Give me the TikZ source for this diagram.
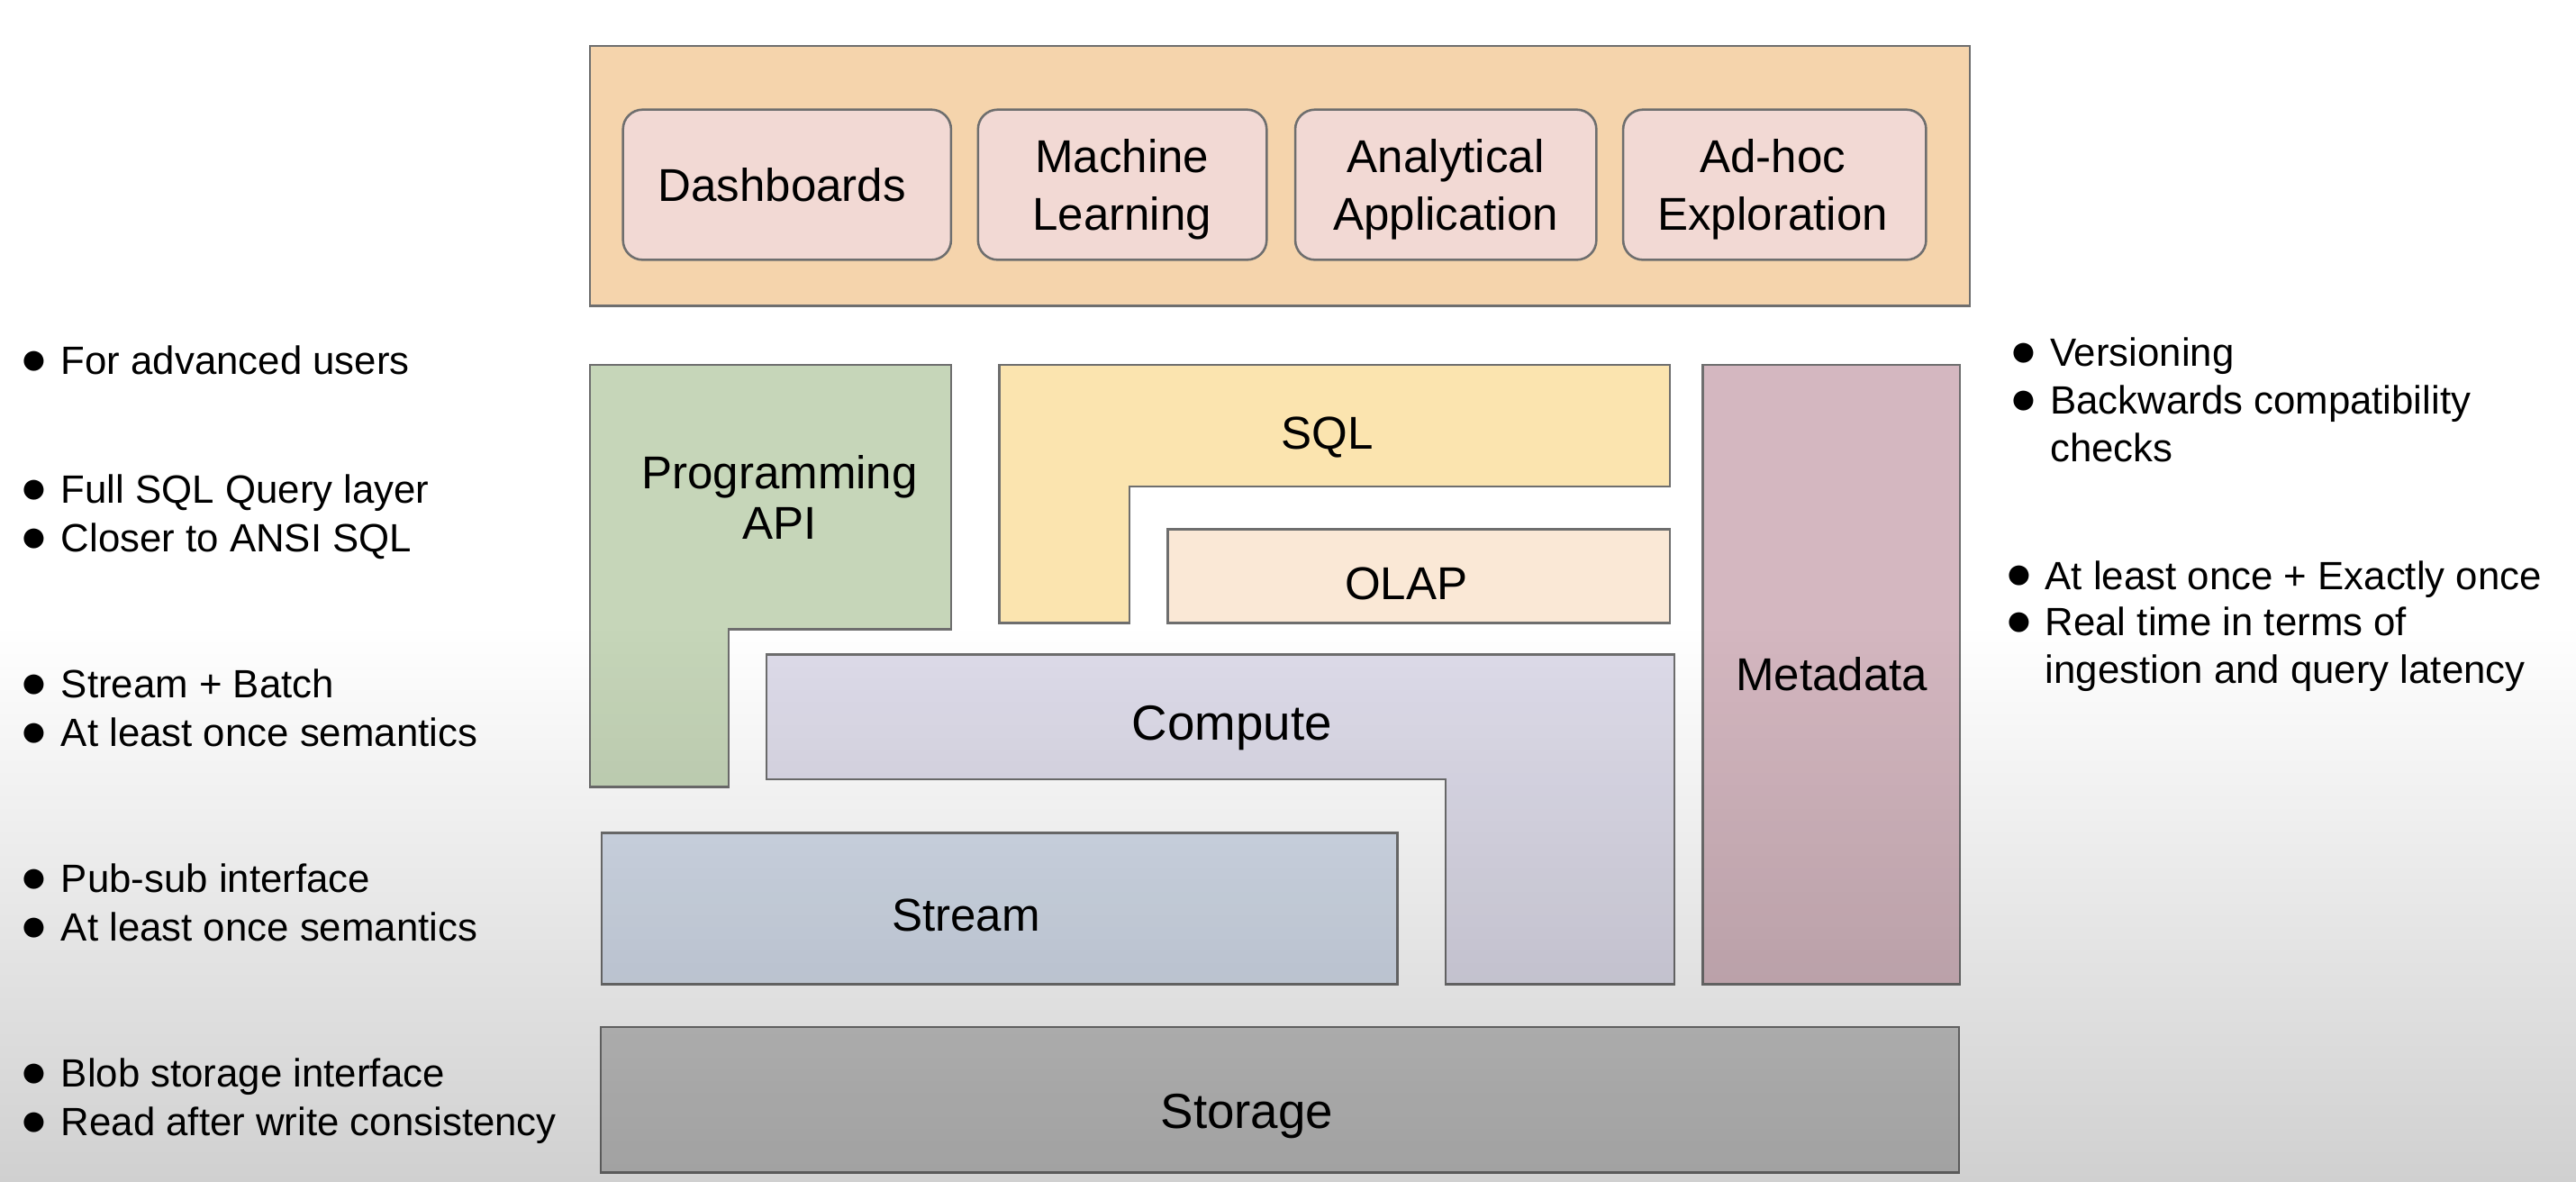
\documentclass[tikz,border=0pt]{standalone}
\usepackage{fontspec}
\setmainfont{Liberation Sans}
\definecolor{bordc}{HTML}{6E6E6E}
\definecolor{appouter}{HTML}{F5D4AC}
\definecolor{appinner}{HTML}{F2D9D4}
\definecolor{greenc}{HTML}{C6D6B9}
\definecolor{sqlc}{HTML}{FBE4AF}
\definecolor{olapc}{HTML}{FAE8D6}
\definecolor{computec}{HTML}{DEDCEA}
\definecolor{metac}{HTML}{D4B7C0}
\definecolor{streamc}{HTML}{D4DDEB}
\definecolor{storagec}{HTML}{C6C6C6}
\definecolor{bgbot}{HTML}{D0D0D0}
\begin{document}
\begin{tikzpicture}[x=0.5pt,y=-0.5pt,
  blk/.style={draw=bordc, line width=0.7pt},
  layer/.style={blk, inner sep=0pt, outer sep=0pt},
  appbox/.style={blk, fill=appinner, rounded corners=6pt, inner sep=0pt,
    minimum height=45.7pt},
  lbl/.style={inner sep=0pt, anchor=base, align=center, font=\fontsize{14}{17}\selectfont},
  applbl/.style={lbl, font=\fontsize{14}{17.35}\selectfont},
  biglbl/.style={lbl, font=\fontsize{15}{18}\selectfont},
  note/.style={inner sep=0pt, anchor=base west, align=left, font=\fontsize{12}{14.5}\selectfont},
  bul/.style={inner sep=0pt, font=\fontsize{14}{14}\selectfont}
]
\useasboundingbox (0,0) rectangle (1568,719);
\fill[white] (0,0) rectangle (1568,719);

% ---------- application layer ----------
\node[layer, fill=appouter, minimum width=420pt, minimum height=79pt] (apps) at (779,107) {};
\node[appbox, minimum width=99.85pt] (dashbox) at (479.05,112.4) {};
\node[appbox, minimum width=87.85pt] (mlbox) at (683.15,112.4) {};
\node[appbox, minimum width=91.65pt] (aabox) at (880.05,112.4) {};
\node[appbox, minimum width=92.2pt] (adhocbox) at (1080.2,112.4) {};
\node[applbl] (dash) at (476,122.5) {Dashboards};
\node[applbl] (ml) at (683,139.8) {Machine\\Learning};
\node[applbl] (aa) at (880,139.8) {Analytical\\Application};
\node[applbl] (adhoc) at (1079,139.8) {Ad-hoc\\Exploration};

% ---------- programming API (L shape) ----------
\draw[blk, fill=greenc] (359,222) -- (579,222) -- (579,383) -- (443.6,383)
  -- (443.6,479) -- (359,479) -- cycle;
\node[lbl, font=\fontsize{14}{15.25}\selectfont] (prog) at (474.5,328) {Programming\\API};

% ---------- SQL (L shape) ----------
\draw[blk, fill=sqlc] (608.3,222) -- (1016.4,222) -- (1016.4,296) -- (687.5,296)
  -- (687.5,379.2) -- (608.3,379.2) -- cycle;
\node[lbl] (sql) at (808,273.2) {SQL};

% ---------- OLAP ----------
\node[layer, fill=olapc, minimum width=152.75pt, minimum height=28.6pt] (olapbox) at (863.65,350.6) {};
\node[lbl] (olap) at (856,365.1) {OLAP};

% ---------- Compute (L shape) ----------
\draw[blk, fill=computec] (466.5,398.4) -- (1019.1,398.4) -- (1019.1,598.9) -- (880,598.9)
  -- (880,474.2) -- (466.5,474.2) -- cycle;
\node[biglbl] (compute) at (750,450.5) {Compute};

% ---------- Metadata ----------
\node[layer, fill=metac, minimum width=78.2pt, minimum height=188.45pt] (metabox) at (1114.8,410.45) {};
\node[lbl] (meta) at (1115,420.3) {Metadata};

% ---------- Stream ----------
\node[layer, fill=streamc, minimum width=242.2pt, minimum height=46.1pt] (streambox) at (608.4,552.8) {};
\node[lbl] (stream) at (588,566.5) {Stream};

% ---------- Storage ----------
\node[layer, fill=storagec, minimum width=413.45pt, minimum height=44.3pt] (storagebox) at (779.05,669.3) {};
\node[biglbl] (storage) at (759,686.8) {Storage};

% ---------- left notes ----------
\node[bul] (lb1) at (21,221) {●};
\node[note] (l1) at (36.8,228) {For advanced users};
\node[bul] (lb2) at (21,299) {●};
\node[note] (l2) at (36.8,306) {Full SQL Query layer};
\node[bul] (lb3) at (21,329) {●};
\node[note] (l3) at (36.8,336) {Closer to ANSI SQL};
\node[bul] (lb4) at (21,417.5) {●};
\node[note] (l4) at (36.8,424.6) {Stream + Batch};
\node[bul] (lb5) at (21,447) {●};
\node[note] (l5) at (36.8,454) {At least once semantics};
\node[bul] (lb6) at (21,536) {●};
\node[note] (l6) at (36.8,543) {Pub-sub interface};
\node[bul] (lb7) at (21,565.5) {●};
\node[note] (l7) at (36.8,572.5) {At least once semantics};
\node[bul] (lb8) at (21,654.5) {●};
\node[note] (l8) at (36.8,661.6) {Blob storage interface};
\node[bul] (lb9) at (21,684) {●};
\node[note] (l9) at (36.8,691) {Read after write consistency};

% ---------- right notes ----------
\node[bul] (rb1) at (1231.7,216) {●};
\node[note] (r1) at (1247.5,223) {Versioning};
\node[bul] (rb2) at (1231.7,245) {●};
\node[note] (r2) at (1247.5,281) {Backwards compatibility\\checks};
\node[bul] (rb3) at (1229,351.5) {●};
\node[note] (r3) at (1244.5,358.6) {At least once + Exactly once};
\node[bul] (rb4) at (1229,380) {●};
\node[note] (r4) at (1244.5,416) {Real time in terms of\\ingestion and query latency};

% ---------- lower shading ----------
\begin{scope}[blend mode=multiply]
  \shade[top color=white, bottom color=bgbot] (0,380) rectangle (1568,719);
\end{scope}
\end{tikzpicture}
\end{document}
